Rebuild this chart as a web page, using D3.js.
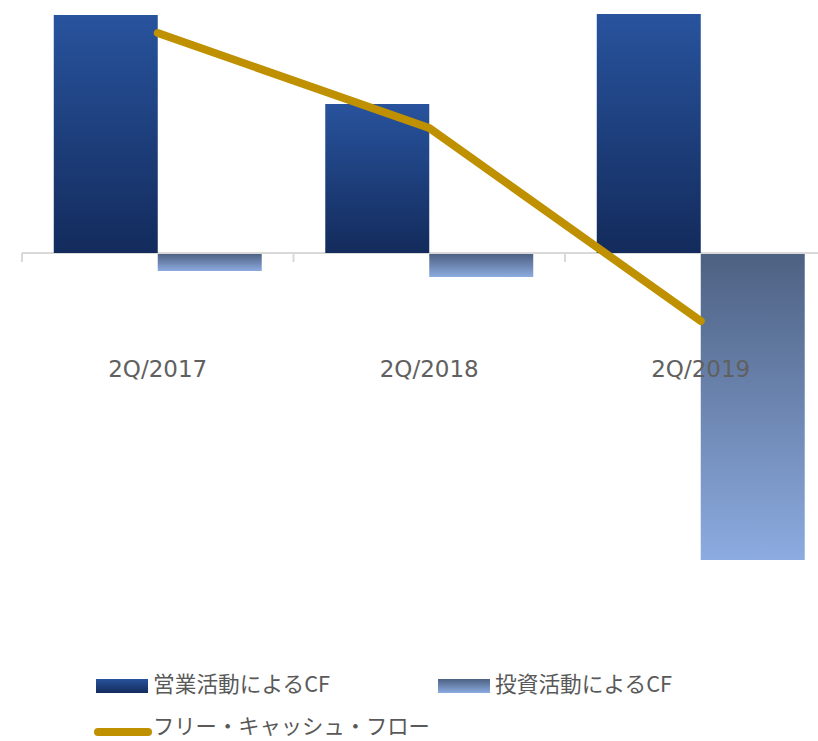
<!DOCTYPE html>
<meta charset="UTF-8">
<style>
	body { margin: 0; background: #fff; }
	text { font-family: "Noto Sans CJK JP", "Noto Sans", sans-serif; fill: #595959; }
	text.cat { font-family: "DejaVu Sans", Verdana, sans-serif; fill: #606060; }
</style>
<body>
<script src="https://d3js.org/d3.v7.min.js"></script>
<script>
	// categories and series (arbitrary units)
	const categories = ["2Q/2017", "2Q/2018", "2Q/2019"];
	const operatingCF = [238, 149, 239];
	const investingCF = [-18, -24, -307];
	const freeCF = [220, 125, -68];
	const seriesNames = ["営業活動によるCF", "投資活動によるCF", "フリー・キャッシュ・フロー"];

	const width = 818, height = 741;

	const svg = d3.select("body").append("svg")
		.attr("width", width)
		.attr("height", height);

	const defs = svg.append("defs");
	const gradOp = defs.append("linearGradient").attr("id", "gOp")
		.attr("x1", 0).attr("y1", 0).attr("x2", 0).attr("y2", 1);
	gradOp.append("stop").attr("offset", "0%").attr("stop-color", "#28539d");
	gradOp.append("stop").attr("offset", "100%").attr("stop-color", "#132b5c");
	const gradInv = defs.append("linearGradient").attr("id", "gInv")
		.attr("x1", 0).attr("y1", 0).attr("x2", 0).attr("y2", 1);
	gradInv.append("stop").attr("offset", "0%").attr("stop-color", "#4d6182");
	gradInv.append("stop").attr("offset", "100%").attr("stop-color", "#8cabe0");

	// scales
	const x0 = d3.scaleBand()
		.domain(categories)
		.range([22, 836.5])
		.paddingInner(0.234)
		.paddingOuter(0.117);
	const x1 = d3.scaleBand()
		.domain(["op", "inv"])
		.range([0, x0.bandwidth()]);
	const y = d3.scaleLinear()
		.domain([-350, 250])
		.range([603, 3]);

	const step = x0.step();

	// axis line at zero with ticks between categories
	const axisG = svg.append("g");
	axisG.append("line")
		.attr("x1", 22).attr("x2", width)
		.attr("y1", y(0)).attr("y2", y(0))
		.attr("stroke", "#d9d9d9").attr("stroke-width", 2);
	axisG.selectAll("line.tick")
		.data(d3.range(categories.length))
		.join("line")
		.attr("class", "tick")
		.attr("x1", i => 22 + i * step).attr("x2", i => 22 + i * step)
		.attr("y1", y(0)).attr("y2", y(0) + 9)
		.attr("stroke", "#d9d9d9").attr("stroke-width", 2);

	// bars
	const groups = svg.append("g").selectAll("g")
		.data(categories)
		.join("g")
		.attr("transform", d => `translate(${x0(d)},0)`);

	groups.append("rect")
		.attr("x", x1("op"))
		.attr("width", x1.bandwidth())
		.attr("y", (d, i) => y(Math.max(0, operatingCF[i])))
		.attr("height", (d, i) => Math.abs(y(operatingCF[i]) - y(0)))
		.attr("fill", "url(#gOp)");

	groups.append("rect")
		.attr("x", x1("inv"))
		.attr("width", x1.bandwidth())
		.attr("y", (d, i) => y(Math.max(0, investingCF[i])) + 1)
		.attr("height", (d, i) => Math.abs(y(investingCF[i]) - y(0)) - 1)
		.attr("fill", "url(#gInv)");

	// category labels
	svg.append("g").selectAll("text")
		.data(categories)
		.join("text")
		.attr("class", "cat")
		.attr("x", d => x0(d) + x0.bandwidth() / 2)
		.attr("y", 377)
		.attr("text-anchor", "middle")
		.style("font-size", "23px")
		.text(d => d);

	// free cash flow line
	const line = d3.line()
		.x((d, i) => x0(categories[i]) + x0.bandwidth() / 2)
		.y(d => y(d));
	svg.append("path")
		.datum(freeCF)
		.attr("d", line)
		.attr("fill", "none")
		.attr("stroke", "#bf9000")
		.attr("stroke-width", 8)
		.attr("stroke-linecap", "round")
		.attr("stroke-linejoin", "round");

	// legend
	const legend = svg.append("g");
	const legItems = [
		{ x: 96, y: 679, fill: "url(#gOp)", name: seriesNames[0] },
		{ x: 438, y: 679, fill: "url(#gInv)", name: seriesNames[1] }
	];
	legItems.forEach(it => {
		legend.append("rect")
			.attr("x", it.x).attr("y", it.y)
			.attr("width", 52).attr("height", 14)
			.attr("fill", it.fill);
		legend.append("text")
			.attr("x", it.x + 57).attr("y", 692)
			.style("font-size", "21.7px")
			.text(it.name);
	});
	legend.append("line")
		.attr("x1", 98).attr("x2", 148)
		.attr("y1", 732).attr("y2", 732)
		.attr("stroke", "#bf9000").attr("stroke-width", 8)
		.attr("stroke-linecap", "round");
	legend.append("text")
		.attr("x", 153).attr("y", 734)
		.style("font-size", "21.3px")
		.text(seriesNames[2]);
</script>
</body>
